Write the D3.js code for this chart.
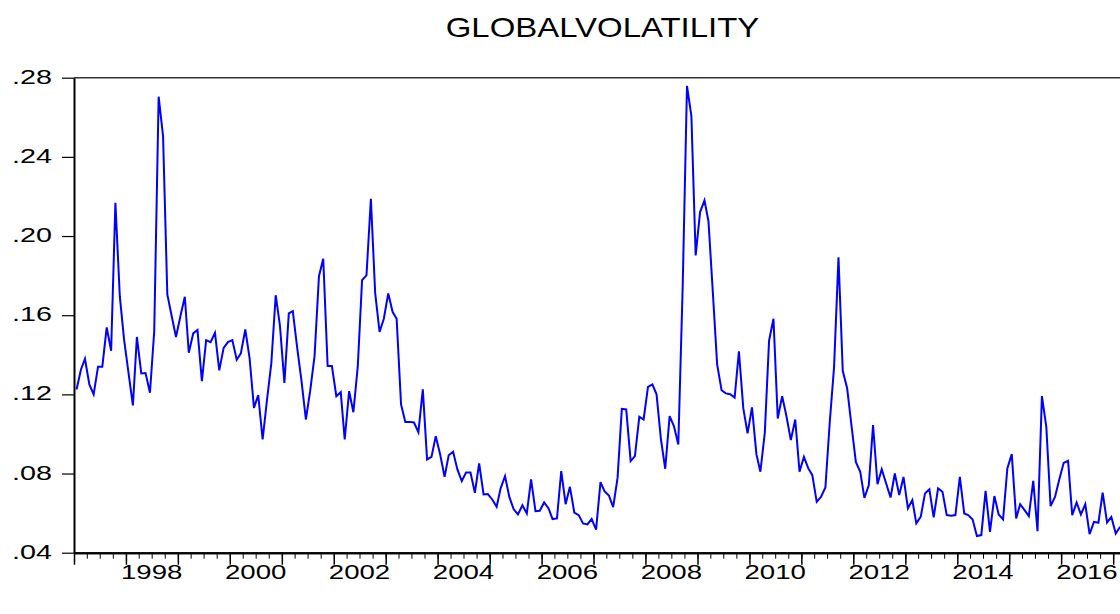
<!DOCTYPE html>
<html lang="en">
<head>
  <meta charset="UTF-8">
  <title>GLOBALVOLATILITY</title>
  <style>
    body { margin: 0; background: #fff; }
    text { font-family: 'Liberation Sans', Arial, sans-serif; fill: #000; }
  </style>
</head>
<body>
  <svg id="svg" width="1120" height="614"></svg>
  <script src="https://d3js.org/d3.v7.min.js"></script>
  <script>
    // monthly series, starts 1997M1
    const startYear = 1997
    const vol = [
      .1225, .1326, .138, .125, .120, .134, .134, .1538, .142, .2168, .1696, .1477,   // 1997
      .131, .1144, .149, .1306, .1308, .1208, .152, .2704, .2505, .1705, .1595, .149,  // 1998
      .1595, .1693, .141, .1508, .1525, .1267, .1474, .1464, .1511, .1321, .1435, .1464, // 1999
      .1474, .1375, .1407, .1528, .1385, .1132, .1196, .0972, .1174, .1356, .1701, .1545, // 2000
      .1258, .1609, .1621, .1435, .127, .1073, .1216, .1393, .1797, .1885, .1343, .1343, // 2001
      .1191, .1211, .0972, .1216, .111, .1343, .1777, .1801, .2188, .1713, .1516, .1582, // 2002
      .171, .1616, .1582, .1149, .1061, .1061, .1058, .1009, .1225, .0871, .0884, .0989, // 2003
      .0896, .0783, .0892, .091, .0821, .0762, .0805, .0805, .0703, .0851, .0694, .0696, // 2004
      .0669, .0632, .0725, .0787, .0682, .0619, .0593, .064, .0598, .077, .061, .0612,   // 2005
      .0654, .0624, .057, .0573, .0812, .0645, .0733, .0603, .059, .0548, .0543, .057,   // 2006
      .0517, .0757, .0711, .0689, .063, .0778, .1127, .1124, .0863, .0888, .1087, .1073, // 2007
      .1238, .125, .120, .0972, .0824, .109, .104, .0947, .175, .2758, .2606, .1902,     // 2008
      .2121, .218, .2075, .1713, .1351, .1221, .1205, .1201, .1184, .1418, .1129, .1003, // 2009
      .1134, .0898, .0809, .1006, .1471, .1582, .1078, .1191, .1087, .0969, .1073, .0809, // 2010
      .0884, .0826, .0792, .0657, .0682, .073, .1053, .1339, .1892, .1319, .123, .1045,  // 2011
      .0859, .0809, .0677, .0741, .1045, .0746, .0822, .075, .0679, .080, .0691, .0783,  // 2012
      .0624, .0666, .0548, .0581, .0699, .072, .0578, .0725, .0708, .059, .0587, .059,   // 2013
      .0783, .0598, .059, .0568, .0484, .0489, .0713, .0505, .0686, .0593, .0568, .0826, // 2014
      .0898, .0573, .0645, .0615, .0585, .0763, .0509, .1191, .1036, .0635, .0682, .077, // 2015
      .0854, .0864, .059, .0654, .0593, .0645, .0494, .0556, .0551, .0703, .0553, .0581, // 2016
      .0497, .0531                                                                       // 2017
    ]
    const yTicks = [0.04, 0.08, 0.12, 0.16, 0.20, 0.24, 0.28]
    const yTickLabels = ['.04', '.08', '.12', '.16', '.20', '.24', '.28']
    const yearLabels = ['1998', '2000', '2002', '2004', '2006', '2008', '2010', '2012', '2014', '2016']

    const svg = d3.select('#svg')
    svg.append('rect').attr('width', 1120).attr('height', 614).attr('fill', '#fff')

    const plotLeft = 74, plotTop = 77.7, plotBottom = 552.7
    const x = d3.scaleTime()
      .domain([new Date(1997, 0, 1), new Date(2017, 3, 1)])
      .range([plotLeft, 1113 + 3 * 4.33])
    const y = d3.scaleLinear()
      .domain([0.04, 0.28])
      .range([plotBottom, plotTop])

    const dates = vol.map((v, i) => new Date(startYear, i, 19))

    // frame
    svg.append('line')
      .attr('x1', plotLeft).attr('x2', 1130).attr('y1', plotTop).attr('y2', plotTop)
      .attr('stroke', '#333').attr('stroke-width', 1.5)

    // line
    const line = d3.line()
      .x((d, i) => x(dates[i]))
      .y(d => y(d))
    svg.append('path')
      .datum(vol)
      .attr('d', line)
      .attr('fill', 'none')
      .attr('stroke', '#0000ff')
      .attr('stroke-width', 2)

    // x axis: yearly major, quarterly minor ticks
    const minorAxis = d3.axisBottom(x)
      .ticks(d3.timeMonth.every(3))
      .tickSize(6).tickSizeOuter(0).tickFormat('')
    const majorAxis = d3.axisBottom(x)
      .ticks(d3.timeYear.every(1))
      .tickSize(12).tickSizeOuter(0).tickFormat('')
    const gx1 = svg.append('g').attr('transform', `translate(0, ${plotBottom})`).call(minorAxis)
    const gx2 = svg.append('g').attr('transform', `translate(0, ${plotBottom})`).call(majorAxis)
    gx2.selectAll('.tick line').attr('stroke-width', 1.5)
    ;[gx1, gx2].forEach(g => {
      g.select('.domain').attr('stroke', '#000').attr('stroke-width', 2)
      g.selectAll('.tick line').attr('stroke', '#000')
    })

    svg.append('g')
      .selectAll('text')
      .data(yearLabels)
      .enter()
      .append('text')
      .attr('text-anchor', 'middle')
      .attr('font-size', 20)
      .attr('transform', d => `translate(${x(new Date(+d, 6, 1))}, 579) scale(1.38, 1)`)
      .text(d => d)

    // y axis
    const leftAxis = d3.axisLeft(y)
      .tickValues(yTicks)
      .tickSize(12).tickSizeOuter(0).tickFormat('')
    const gy = svg.append('g').attr('transform', `translate(${plotLeft}, 0)`).call(leftAxis)
    gy.select('.domain').attr('stroke', '#000').attr('stroke-width', 2)
    gy.selectAll('.tick line').attr('stroke', '#000').attr('stroke-width', 1.2)

    svg.append('g')
      .selectAll('text')
      .data(yTicks)
      .enter()
      .append('text')
      .attr('text-anchor', 'end')
      .attr('font-size', 21)
      .attr('transform', d => `translate(52, ${y(d) + 6}) scale(1.37, 1)`)
      .text((d, i) => yTickLabels[i])

    // title
    svg.append('text')
      .attr('text-anchor', 'middle')
      .attr('font-size', 27)
      .attr('transform', 'translate(602.5, 36.7) scale(1.22, 1)')
      .text('GLOBALVOLATILITY')
  </script>
</body>
</html>
